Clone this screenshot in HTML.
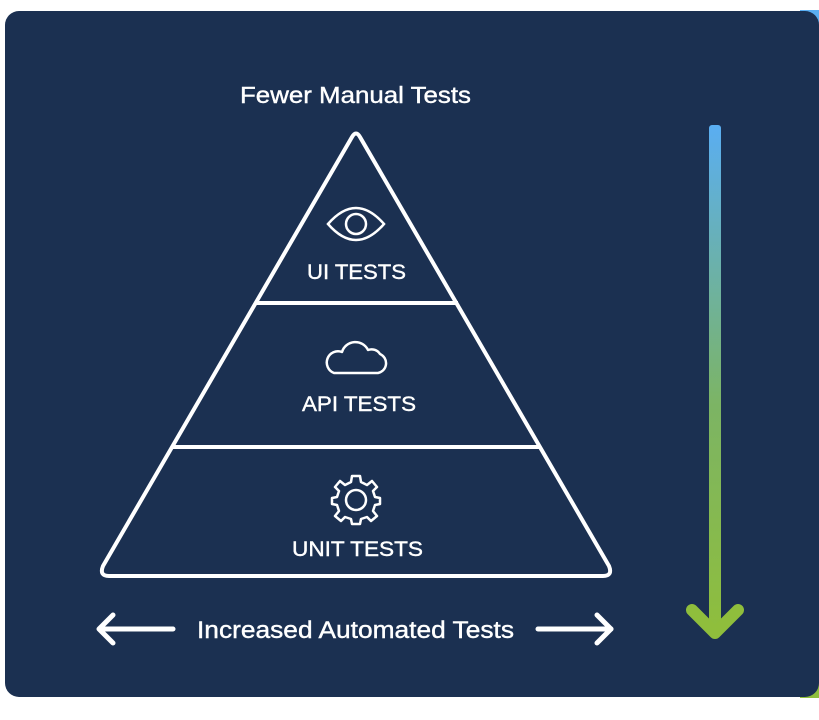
<!DOCTYPE html>
<html><head><meta charset="utf-8"><style>
html,body{margin:0;padding:0;background:#fff;width:819px;height:720px;overflow:hidden}
svg{display:block}
text{font-family:"Liberation Sans",sans-serif;fill:#fff;stroke:#fff;stroke-width:0.4}
</style></head><body>
<svg width="819" height="720" viewBox="0 0 819 720">
<defs>
<linearGradient id="g" x1="0" y1="0" x2="0" y2="1">
<stop offset="0" stop-color="#5aaef2"/>
<stop offset="0.55" stop-color="#7cb464"/>
<stop offset="1" stop-color="#8fbe3c"/>
</linearGradient>
</defs>
<rect x="800" y="10" width="19" height="688" fill="url(#g)"/>
<rect x="5" y="11" width="814" height="686" rx="14" fill="#1b3051"/>
<text x="240" y="103" font-size="23" textLength="231" lengthAdjust="spacingAndGlyphs">Fewer Manual Tests</text>
<path d="M352 137 Q356 130 360 137 L609 566 Q613 576 603 576 L109 576 Q99 576 103 566 Z" fill="none" stroke="#fff" stroke-width="4" stroke-linejoin="round"/>
<line x1="256" y1="303" x2="458" y2="303" stroke="#fff" stroke-width="4"/>
<line x1="172" y1="447" x2="541" y2="447" stroke="#fff" stroke-width="4"/>
<path d="M328 224 Q356 192 384 224 Q356 256 328 224 Z" fill="none" stroke="#fff" stroke-width="2.5"/>
<circle cx="356" cy="224" r="10" fill="none" stroke="#fff" stroke-width="2.5"/>
<text x="307" y="279" font-size="21" textLength="99" lengthAdjust="spacingAndGlyphs">UI TESTS</text>
<path d="M334 373 L378 373 A10 10 0 0 0 380 354 A10 10 0 0 0 368 350 A14 14 0 0 0 342 352 A11 11 0 0 0 334 373 Z" fill="none" stroke="#fff" stroke-width="2.5" stroke-linejoin="round"/>
<text x="302" y="411" font-size="21" textLength="114" lengthAdjust="spacingAndGlyphs">API TESTS</text>
<g transform="translate(356,500)" fill="none" stroke="#fff" stroke-width="2.5">
<path d="M-4 -24 L4 -24 L5 -18 L11 -15 L16 -19 L21 -13 L17 -9 L19 -3 L24 -2 L24 4 L19 5 L17 11 L21 16 L15 21 L11 17 L5 19 L4 24 L-4 24 L-5 19 L-11 17 L-15 21 L-21 16 L-17 11 L-19 5 L-24 4 L-24 -2 L-19 -3 L-17 -9 L-21 -13 L-16 -19 L-11 -15 L-5 -18 Z" stroke-linejoin="round"/>
<circle r="10"/>
</g>
<text x="292" y="556" font-size="21" textLength="131" lengthAdjust="spacingAndGlyphs">UNIT TESTS</text>
<g stroke="#fff" stroke-width="5" stroke-linecap="round" stroke-linejoin="round" fill="none">
<line x1="100" y1="629" x2="173" y2="629"/>
<polyline points="113,615 99,629 113,643"/>
<line x1="538" y1="629" x2="611" y2="629"/>
<polyline points="597,615 611,629 597,643"/>
</g>
<text x="197" y="638" font-size="24" textLength="317" lengthAdjust="spacingAndGlyphs">Increased Automated Tests</text>
<rect x="709" y="125" width="12" height="510" rx="3" fill="url(#g)"/>
<polyline points="692,610 715,633 738,610" fill="none" stroke="#8fbe3c" stroke-width="12" stroke-linecap="round" stroke-linejoin="round"/>
</svg>
</body></html>
